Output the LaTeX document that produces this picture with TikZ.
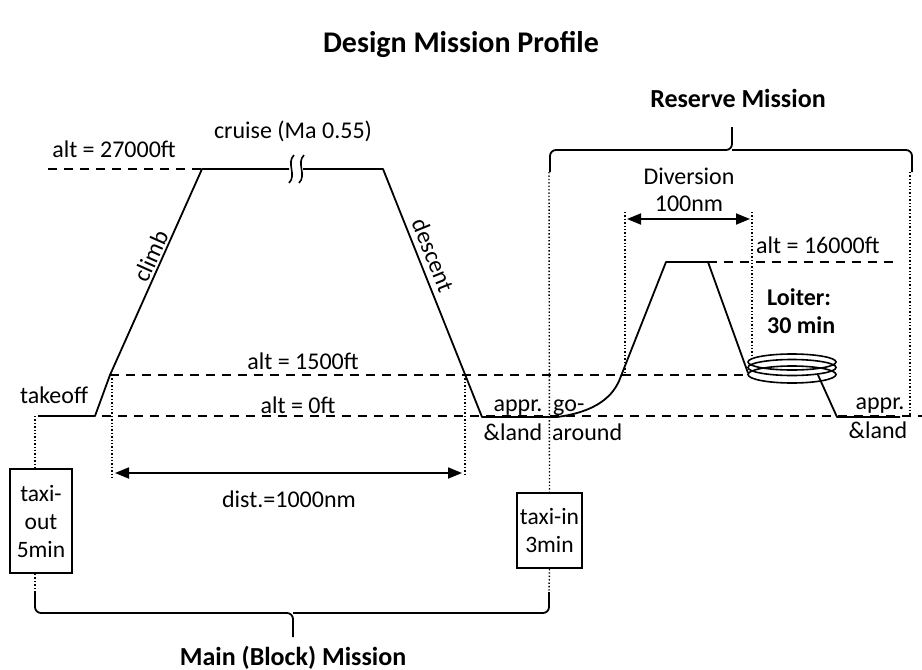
\documentclass[tikz,border=0pt]{standalone}
\usepackage{fontspec}
\setmainfont{Carlito}
\usetikzlibrary{arrows.meta}
\begin{document}
\begin{tikzpicture}[x=1pt,y=-1pt,
 prof/.style={line width=1.8pt, line join=round},
 dashln/.style={line width=1.8pt, dash pattern=on 9pt off 7pt},
 dotln/.style={line width=1.4pt, dash pattern=on 1.4pt off 2pt},
 dimarrow/.style={line width=1.8pt, {Triangle[length=14pt,width=11pt]}-{Triangle[length=14pt,width=11pt]}},
 bracepath/.style={line width=1.8pt, rounded corners=6pt},
 lbl/.style={font=\fontsize{24}{28}\selectfont, inner sep=0pt, anchor=base},
 boldlbl/.style={font=\fontsize{24}{28}\selectfont\bfseries, inner sep=0pt, anchor=base west},
 heading/.style={font=\fontsize{26}{30}\selectfont\bfseries, inner sep=0pt, anchor=base},
 taxibox/.style={draw, line width=1.8pt, font=\fontsize{23.5}{28}\selectfont, align=center, inner sep=0pt}
]
\useasboundingbox (0,0) rectangle (922,670);

% title and headings
\node[font=\fontsize{30}{34}\selectfont\bfseries, inner sep=0pt, anchor=base] (title) at (461,52) {Design Mission Profile};
\node[heading] (reserve) at (738,107) {Reserve Mission};
\node[heading] (main) at (293,665) {Main (Block) Mission};

% key coordinates
\coordinate (g0) at (38,416);
\coordinate (to) at (95,416);
\coordinate (c0) at (110,375);
\coordinate (c1) at (202,169);
\coordinate (b1) at (289,169);
\coordinate (b2) at (303,169);
\coordinate (d0) at (383,169);
\coordinate (d1) at (482,417);
\coordinate (ga0) at (557,417);
\coordinate (ga1) at (621,376);
\coordinate (v0) at (666,262);
\coordinate (v1) at (708,262);
\coordinate (v2) at (748,373);
\coordinate (l1) at (818,375);
\coordinate (l2) at (837,417);
\coordinate (l3) at (900,417);

% dashed altitude lines
\draw[dashln] (48,169) -- (c1);
\draw[dashln] (g0) -- (922,416);
\draw[dashln] (c0) -- (748,375);
\draw[dashln] (v1) -- (893,262);

% labels
\node[lbl] (a27) at (114,157) {alt = 27000ft};
\node[lbl] (cruise) at (293,138) {cruise (Ma 0.55)};
\node[lbl] (a15) at (303,369) {alt = 1500ft};
\node[lbl] (a0) at (298,413) {alt = 0ft};
\node[lbl] (takeoff) at (54,403) {takeoff};
\node[lbl, anchor=center, rotate=66] (climb) at (151,256) {climb};
\node[lbl, anchor=center, rotate=-68] (descent) at (433,255) {descent};
\node[lbl] (appr1) at (518,411) {appr.};
\node[lbl] (land1) at (513,440) {\&land};
\node[lbl, anchor=base west] (go) at (553,411) {go-};
\node[lbl, anchor=base west] (around) at (552,440) {around};
\node[lbl] (appr2) at (880,409) {appr.};
\node[lbl] (land2) at (878,438) {\&land};
\node[lbl] (div) at (689,184) {Diversion};
\node[lbl] (div2) at (689,211) {100nm};
\node[lbl, anchor=base west] (a16) at (756,253) {alt = 16000ft};
\node[boldlbl] (loiter) at (767,305) {Loiter:};
\node[boldlbl] (loiter2) at (767,333) {30 min};
\node[lbl] (dist) at (289,507) {dist.=1000nm};

% boxes
\node[taxibox, minimum width=62pt, minimum height=104pt] (taxiout) at (41,521) {taxi-\\out\\5min};
\node[taxibox, minimum width=65pt, minimum height=75pt] (taxiin) at (549.5,530.5) {taxi-in\\3min};

% profile
\draw[prof] (g0) -- (to) -- (c0) -- (c1) -- (b1);
\draw[prof] (b2) -- (d0) -- (d1) -- (ga0);
\draw[prof] (ga0) .. controls (595,412) and (614,397) .. (ga1) -- (v0) -- (v1) -- (v2);
\draw[prof] (l1) -- (l2) -- (l3);
% cruise break
\draw[line width=1.6pt] (294,155) .. controls (286,163) and (297,175) .. (289,183);
\draw[line width=1.6pt] (304,155) .. controls (296,163) and (307,175) .. (299,183);
% loiter coil
\draw[line width=1.6pt] (792,362) ellipse [x radius=44, y radius=8];
\draw[line width=1.6pt] (792,367.5) ellipse [x radius=44, y radius=8];
\draw[line width=1.6pt] (792,374.5) ellipse [x radius=44, y radius=8.5];

% dimension arrows
\coordinate (dA) at (115,473);
\coordinate (dB) at (462,473);
\draw[dimarrow] (dA) -- (dB);
\coordinate (vA) at (627,219);
\coordinate (vB) at (750,219);
\draw[dimarrow] (vA) -- (vB);

% dotted guide lines
\coordinate (toA) at (35,416);
\coordinate (mainL) at (35,592);
\coordinate (mainR) at (549,592);
\coordinate (resL) at (549,172);
\coordinate (resR) at (910,172);
\draw[dotln] (toA) -- (toA |- taxiout.north);
\draw[dotln] (taxiout.south -| toA) -- (mainL);
\draw[dotln] (112,375) -- (112,478);
\draw[dotln] (465,375) -- (465,476);
\draw[dotln] (resL) -- (taxiin.north);
\draw[dotln] (taxiin.south) -- (mainR);
\draw[dotln] (resR) -- (910,415);
\draw[dotln] (625,212) -- (625,375);
\draw[dotln] (752,212) -- (752,355);

% braces
\draw[bracepath] (mainL) -- (35,613) -- (293,613) -- (293,637);
\draw[bracepath] (mainR) -- (549,613) -- (293,613);
\draw[bracepath] (550,172) -- (550,150) -- (732,150) -- (732,127);
\draw[bracepath] (912,172) -- (912,150) -- (732,150);
\end{tikzpicture}
\end{document}
